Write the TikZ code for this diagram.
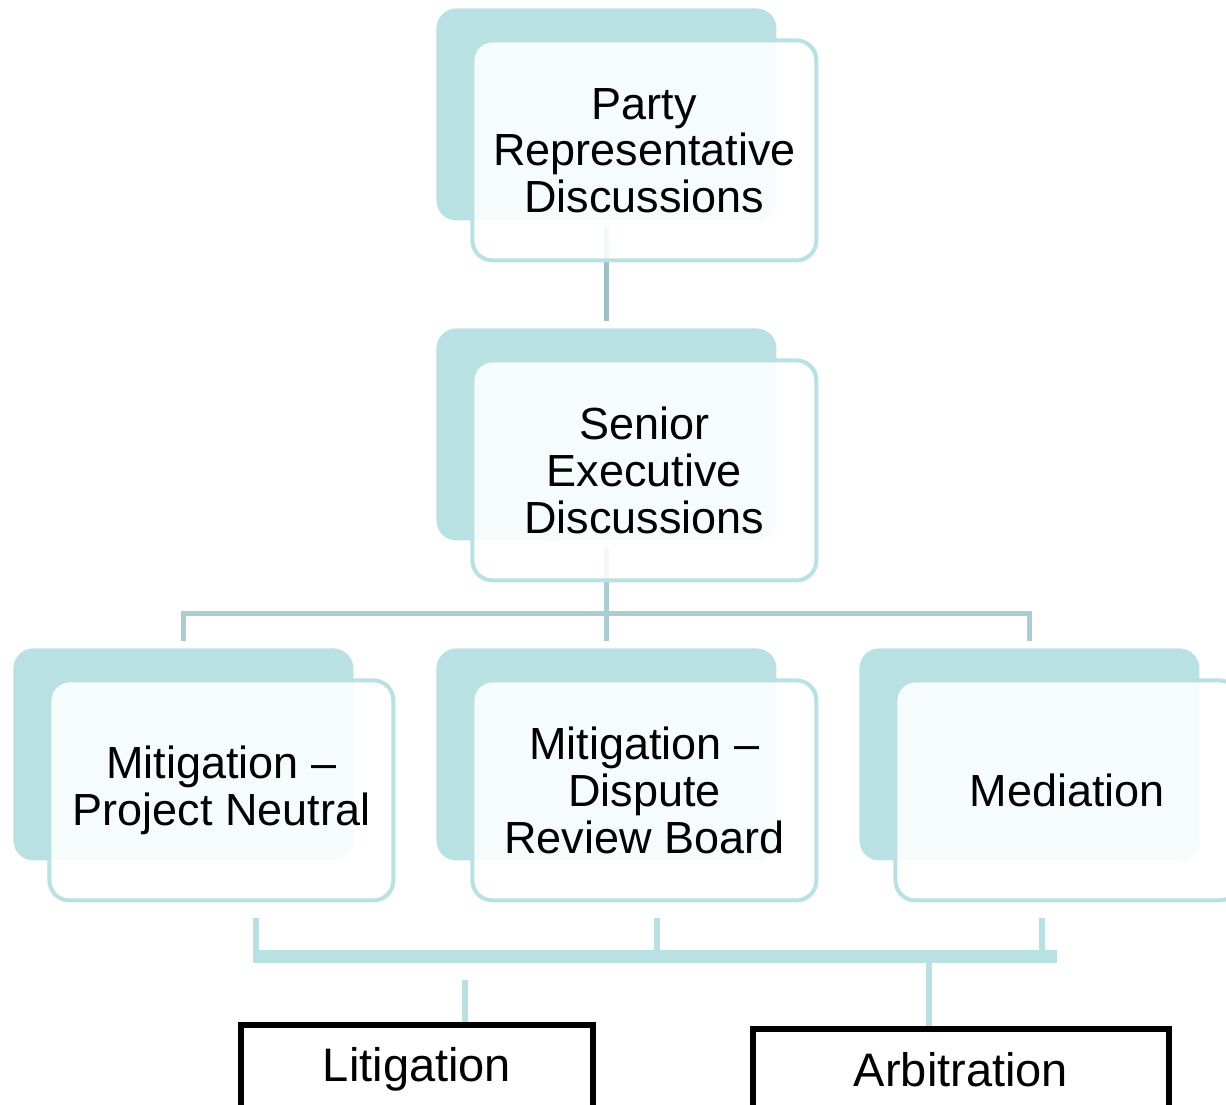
\documentclass[tikz,border=0pt]{standalone}
\usepackage{fontspec}
\setmainfont{Liberation Sans}
\usetikzlibrary{matrix}

\definecolor{cardteal}{HTML}{B9E0E2}
\definecolor{linkgrey}{HTML}{9CBFC3}
\definecolor{forkteal}{HTML}{A9CDD1}

\tikzset{
    card/.style={fill=cardteal, rounded corners=10pt, minimum width=170pt, minimum height=106pt, inner sep=0pt, outer sep=0pt},
    front/.style={draw=cardteal, line width=2pt, fill=white, fill opacity=0.88, text opacity=1, rounded corners=10pt,
        minimum width=172pt, minimum height=110pt, align=center, font=\fontsize{22.5}{23.3}\selectfont},
    outcome/.style={draw=black, line width=3pt, anchor=north, inner xsep=0pt, inner ysep=11pt,
        text height=17pt, text depth=20pt, font=\fontsize{23.5}{24}\selectfont},
    link/.style={linkgrey, line width=2.5pt},
    fork/.style={forkteal, line width=2.5pt},
    tie/.style={cardteal, line width=3pt},
    bar/.style={cardteal, line width=6.5pt}
}

\def\Cards{
    \matrix (cards)
    [matrix of nodes,
    ampersand replacement=\&,
    anchor=north west,
    inner sep=0pt,
    column sep={41.5pt},
    row sep={54pt},
    nodes={card}] at (13,8)
    {
      \& |[card]| \& \\
      \& |[card]| \& \\
     |[card]| \& |[card]| \& |[card]| \\
};
}

\begin{document}
\begin{tikzpicture}[x=0.5pt, y=-0.5pt]
    \useasboundingbox (0,0) rectangle (1226,1104);
    \Cards

    % links between the back cards
    \draw[link, shorten <=3.5pt, shorten >=3.5pt] (cards-1-2.south) -- (cards-2-2.north);
    \coordinate (fork) at ([yshift=-36.5pt]cards-2-2.south);
    \draw[fork, shorten <=4pt] (cards-2-2.south) -- (fork);
    \draw[fork, shorten <=3.5pt, shorten >=3.5pt] (cards-3-1.north) |- (fork) -| (cards-3-3.north);
    \draw[fork, shorten >=3.5pt] (fork) -- (cards-3-2.north);

    \node[front] (f-1-2) at ([shift={(19pt,-18pt)}]cards-1-2.center) {Party\\Representative\\Discussions};
    \node[front] (f-2-2) at ([shift={(19pt,-18pt)}]cards-2-2.center) {Senior\\Executive\\Discussions};
    \node[front] (f-3-1) at ([shift={(19pt,-18pt)}]cards-3-1.center) {Mitigation –\\Project Neutral};
    \node[front] (f-3-2) at ([shift={(19pt,-18pt)}]cards-3-2.center) {Mitigation –\\Dispute\\Review Board};
    \node[front] (f-3-3) at ([shift={(19pt,-18pt)}]cards-3-3.center) {Mediation};

    % bar under the third row
    \coordinate (barW) at (255,956.5);
    \coordinate (barE) at (1057,956.5);
    \coordinate (barLow) at (656,963);
    \draw[bar] (barW) -- (barE);
    \foreach \c/\dx in {3-1/17.5pt, 3-2/6.5pt, 3-3/-12.5pt} {
    \coordinate (drop-\c) at ([xshift=\dx,yshift=-8pt]f-\c.south);
    \draw[tie] (drop-\c) -- (drop-\c |- barLow);
    }

    \node[outcome, minimum width=176pt] (litigation) at (417,1022) {Litigation};
    \node[outcome, minimum width=208pt, inner ysep=11.5pt] (arbitration) at (961,1026) {Arbitration};

    \draw[tie] ([xshift=24pt]litigation.north) -- ++(0,-42);
    \coordinate (arb-top) at ([xshift=-16pt]arbitration.north);
    \draw[tie] (arb-top) -- (arb-top |- barLow);
    % \draw[tie] (litigation.north) -- (litigation.north |- barLow);
\end{tikzpicture}
\end{document}
